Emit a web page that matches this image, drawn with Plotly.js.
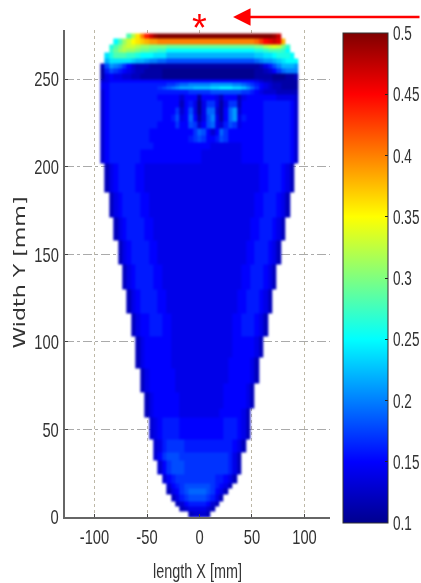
<!DOCTYPE html>
<html>
<head>
<meta charset="utf-8">
<script src="https://cdn.plot.ly/plotly-3.0.1.min.js"></script>
<style>
html,body{margin:0;padding:0;background:#fff;overflow:hidden}
#chart{width:421px;height:583px;filter:blur(0.6px)}
.hm image{filter:blur(1.1px)}
</style>
</head>
<body>
<div id="chart"></div>
<script>
// column edges along length X [mm]
var xEdges = [-94.5,-90.3,-86.1,-81.9,-77.7,-73.5,-69.3,-65.1,-60.9,-56.7,-52.5,-48.3,-44.1,-39.9,-35.7,-31.5,-27.3,-23.1,-18.9,-14.7,-10.5,-6.3,-2.1,2.1,6.3,10.5,14.7,18.9,23.1,27.3,31.5,35.7,39.9,44.1,48.3,52.5,56.7,60.9,65.1,69.3,73.5,77.7,81.9,86.1,90.3,94.5];
// row edges along width Y [mm]
var yEdges = [0,3,6,9,13,16,19,24,32,37,44,57,62,71,76,85,91,103,116,130,144,158,171,185,202,206,210,214,218,222,226,230,234,238,241,244,246,248,250,253,256,259,262,265,267.5,270,273,276];
// first filled column of each row
var rowStart = [20,18,17,16,15,15,14,13,12,12,11,10,10,9,9,8,8,7,6,5,4,3,2,1,0,0,0,0,0,0,0,0,0,0,0,0,0,0,0,0,0,1,1,2,2,3,6];
// measured values in hundredths, bottom row first
var rowValues = [
[12,13,13,13,12],
[12,13,14,14,14,14,13,12],
[12,13,15,16,16,16,16,15,13,12],
[12,14,16,17,18,18,18,18,17,16,14,12],
[12,14,15,17,18,19,19,19,19,18,17,15,14,12],
[13,15,16,17,18,18,18,18,18,18,17,16,15,14,12],
[13,15,16,17,17,17,17,17,17,17,17,17,16,16,15,14,12],
[13,15,17,18,18,18,17,17,17,17,17,17,17,17,17,17,16,14,12],
[13,15,17,18,18,18,17,17,17,17,17,17,17,17,17,17,17,16,14,12],
[13,14,16,17,17,17,17,16,16,16,16,16,16,16,16,16,16,16,15,14,12],
[13,14,15,16,16,16,16,15,15,15,15,15,15,15,15,15,15,16,16,16,15,14,12],
[12,14,15,15,15,15,15,15,14,14,14,14,14,14,14,14,14,15,15,15,15,15,14,12],
[12,14,15,15,15,15,15,15,14,14,14,14,14,14,14,14,14,14,15,15,15,15,15,14,12],
[12,14,15,15,15,15,15,15,14,14,14,14,14,14,14,14,14,14,14,15,15,15,15,15,14,12],
[12,14,15,15,15,15,15,15,14,14,14,14,14,14,14,14,14,14,14,14,15,15,15,15,15,14,12],
[12,14,15,15,15,15,15,15,14,14,14,14,14,14,14,14,14,14,14,14,14,15,15,15,15,15,14,12],
[12,14,15,15,15,15,15,15,14,14,14,14,14,14,14,14,14,14,14,14,14,14,15,15,15,15,15,14,12],
[12,14,15,15,16,16,16,15,15,14,14,14,14,14,14,14,14,14,14,14,14,14,14,15,15,16,16,16,15,14,12],
[12,14,15,16,16,16,16,15,15,14,14,14,14,14,14,14,14,14,14,14,14,14,14,14,14,15,15,16,16,16,15,14,12],
[12,14,15,16,16,16,16,15,15,14,14,14,14,14,14,14,14,14,14,14,14,14,14,14,14,14,14,15,15,16,16,16,15,14,12],
[12,14,15,16,16,16,16,15,15,14,14,14,14,14,14,14,14,14,14,14,14,14,14,14,14,14,14,14,14,15,15,16,16,16,15,14,12],
[12,14,15,16,16,16,16,15,15,14,14,14,14,14,14,14,14,14,14,14,14,14,14,14,14,14,14,14,14,14,14,15,15,16,16,16,15,14,12],
[12,14,15,16,16,16,16,15,15,14,14,14,14,14,14,14,14,14,14,14,14,14,14,14,14,14,14,14,14,14,14,14,14,15,15,16,16,16,15,14,12],
[12,14,15,16,16,16,16,15,15,14,14,14,14,14,14,14,14,14,14,14,14,14,14,14,14,14,14,14,14,14,14,14,14,14,14,15,15,16,16,16,15,14,12],
[13,15,16,16,16,16,16,16,16,15,15,15,15,15,15,15,15,15,15,15,15,15,15,14,14,14,14,14,14,14,14,14,15,15,15,15,15,16,16,16,16,16,16,15,13],
[13,15,16,16,16,16,16,16,16,15,15,15,15,15,15,15,15,15,15,15,15,15,15,14,14,14,14,14,14,14,14,14,15,15,15,15,15,16,16,16,16,16,16,15,13],
[13,15,16,16,16,16,16,16,16,16,16,16,15,15,15,15,15,15,15,15,15,15,15,15,15,14,14,14,14,14,14,14,15,15,15,15,15,16,16,16,16,16,16,15,13],
[13,15,16,16,16,16,16,16,16,16,16,15,15,15,15,15,15,15,15,15,16,17,18,17,15,15,16,18,17,15,15,15,15,15,15,15,15,16,16,16,16,16,16,15,13],
[13,15,16,16,16,16,16,16,16,16,16,15,15,15,15,15,15,15,15,15,15,17,19,18,15,13,15,19,17,15,15,15,15,15,15,15,15,16,16,16,16,16,16,15,13],
[13,15,16,16,16,16,16,16,16,16,16,16,16,15,15,15,15,17,15,15,18,17,13,15,18,19,14,13,16,18,17,14,15,15,15,15,15,16,16,16,16,16,16,15,13],
[13,15,16,16,16,16,16,16,16,16,16,16,16,16,15,15,16,18,14,15,19,15,11,14,18,20,14,11,15,19,21,14,16,15,15,15,15,16,16,16,16,16,16,15,13],
[13,15,16,16,16,16,16,16,16,16,16,16,16,16,15,15,15,17,13,15,18,14,10,14,19,19,13,11,15,19,21,13,15,15,15,15,15,16,16,16,16,16,16,15,13],
[13,15,16,16,16,16,16,16,16,16,16,16,16,16,15,15,15,15,12,15,16,14,10,14,17,17,14,11,14,17,17,12,15,15,15,15,15,16,16,16,16,16,16,15,13],
[13,15,16,16,16,16,16,16,16,16,16,16,16,15,15,15,15,15,13,15,15,15,11,15,15,15,14,12,15,15,15,12,14,15,15,15,15,15,15,15,14,14,14,14,13],
[13,15,16,16,16,16,16,16,16,16,16,16,16,16,16,16,16,16,16,16,17,17,17,17,17,18,18,18,18,18,18,18,17,17,16,15,14,13,13,13,12,12,12,12,12],
[14,15,16,16,16,16,16,16,16,16,16,16,16,17,18,19,20,21,22,22,22,23,23,23,23,24,24,25,25,25,24,24,23,21,19,17,15,14,13,12,12,11,11,11,11],
[14,15,16,16,16,16,16,16,16,16,16,16,16,16,16,17,17,18,19,19,20,20,20,20,20,21,21,21,21,21,20,20,19,18,17,16,15,14,13,12,12,11,11,11,11],
[13,14,15,15,15,15,15,15,15,15,15,15,15,15,15,15,15,15,15,15,15,15,15,15,15,15,15,15,15,15,15,15,15,15,15,14,13,12,12,11,11,11,11,11,11],
[11,14,15,14,14,13,13,12,12,11,11,11,11,11,10,10,10,10,10,10,10,10,10,10,10,10,10,10,10,10,10,10,10,10,10,11,11,11,11,10,10,10,11,11,12],
[11,16,18,17,16,15,14,13,12,12,11,11,11,11,10,10,10,10,10,10,10,10,10,10,10,10,10,10,10,10,10,10,10,10,10,11,11,12,13,15,17,19,20,20,20],
[12,18,21,20,19,17,15,13,12,12,12,11,11,11,11,11,11,11,11,11,11,11,11,11,11,11,11,11,11,11,11,11,11,11,11,11,12,14,16,18,20,22,22,22,21],
[22,24,24,24,24,24,23,22,22,21,20,20,19,19,18,18,18,18,18,18,18,18,18,18,18,18,18,18,18,18,18,18,18,18,19,20,21,21,22,23,24,25,25,25],
[24,26,28,28,28,27,27,26,25,25,25,24,24,24,22,22,22,22,22,22,22,22,22,22,22,22,22,22,22,22,22,22,22,22,23,23,24,24,25,26,26,26,25],
[27,29,31,32,31,31,30,29,29,28,28,27,27,25,25,25,25,25,25,25,25,25,25,25,25,25,25,25,25,25,25,25,25,26,26,27,28,28,28,27,25],
[26,28,30,32,33,33,32,31,31,30,30,30,30,29,29,29,29,29,29,29,29,29,29,29,29,29,29,29,29,29,29,29,29,30,30,32,33,34,33,30,27],
[25,28,31,33,35,36,37,38,39,39,40,40,40,40,40,40,40,40,40,40,40,40,40,40,40,40,40,40,40,40,40,40,41,43,45,46,47,46,38],
[28,32,36,40,44,47,49,50,50,50,50,50,50,50,50,50,50,50,50,50,50,50,50,50,50,50,50,50,50,50,50,50,50,49,47]
];
var xTicks = [-100,-50,0,50,100];
var xLabels = ['-100','-50','0','50','100'];
var yTicks = [0,50,100,150,200,250];
var yLabels = ['0','50','100','150','200','250'];
var cbTicks = [0.1,0.15,0.2,0.25,0.3,0.35,0.4,0.45,0.5];
var cbLabels = ['0.1','0.15','0.2','0.25','0.3','0.35','0.4','0.45','0.5'];

var nCols = xEdges.length - 1;
var z = rowValues.map(function(vals, r){
  var row = [];
  for (var c = 0; c < nCols; c++) {
    var i = c - rowStart[r];
    row.push(i >= 0 && i < vals.length ? vals[i] / 100 : null);
  }
  return row;
});

var sans = '"Liberation Sans",Arial,sans-serif';
var trace = {
  type: 'heatmap', x: xEdges, y: yEdges, z: z, zmin: 0.1, zmax: 0.5, zsmooth: false,
  hoverongaps: false,
  colorscale: [[0,'rgb(0,0,143)'],[0.125,'rgb(0,0,255)'],[0.375,'rgb(0,255,255)'],[0.625,'rgb(255,255,0)'],[0.875,'rgb(255,0,0)'],[1,'rgb(128,0,0)']],
  colorbar: {
    x: 1.049, xanchor: 'left', xpad: 0, y: 0.9938, yanchor: 'top', ypad: 0,
    lenmode: 'pixels', len: 490, thicknessmode: 'pixels', thickness: 45,
    tickmode: 'array', tickvals: cbTicks, ticktext: cbLabels,
    ticks: 'inside', ticklen: 3, tickcolor: '#222',
    tickfont: {family: sans, size: 20, color: '#333'},
    outlinecolor: '#333', outlinewidth: 1, borderwidth: 0
  }
};
var layout = {
  width: 421, height: 583, paper_bgcolor: '#fff', plot_bgcolor: '#fff',
  margin: {l: 65, r: 91, t: 30, b: 66, pad: 0, autoexpand: false},
  showlegend: false,
  xaxis: {
    range: [-128.1, 124.3], tickmode: 'array', tickvals: xTicks, ticktext: xLabels, ticks: 'inside', ticklen: 3,
    showline: true, linecolor: '#666', linewidth: 2, zeroline: false,
    showgrid: true, gridcolor: '#bdb8a8', griddash: 'dot', gridwidth: 1,
    tickfont: {family: sans, size: 21, color: '#333'},
    title: {text: 'length X [mm]', font: {family: sans, size: 20, color: '#333'}, standoff: 17}
  },
  yaxis: {
    range: [0, 278], tickmode: 'array', tickvals: yTicks, ticktext: yLabels, ticks: 'inside', ticklen: 3,
    showline: true, linecolor: '#666', linewidth: 2, zeroline: false,
    showgrid: true, gridcolor: '#aaa', griddash: 'dashdot', gridwidth: 1,
    tickfont: {family: sans, size: 21, color: '#333'},
    title: {text: 'Width Y [mm]', font: {family: '"DejaVu Sans",sans-serif', size: 16, color: '#333'}, standoff: 4}
  },
  annotations: [
    {xref: 'x', yref: 'paper', x: 0, y: 1.005, text: '*', showarrow: false,
     font: {family: sans, size: 38, color: '#f00'}, xanchor: 'center', yanchor: 'middle'},
    {xref: 'x', yref: 'paper', x: 32, y: 1.0267, text: '', showarrow: true, axref: 'pixel', ayref: 'pixel',
     ax: 190, ay: 0, arrowcolor: '#f00', arrowwidth: 2.5, arrowhead: 2, arrowsize: 1.4, standoff: 0}
  ]
};
function squeeze(sel, factor){
  document.querySelectorAll(sel).forEach(function(t){
    var w = t.getComputedTextLength();
    t.setAttribute('textLength', (w * factor).toFixed(1));
    t.setAttribute('lengthAdjust', 'spacingAndGlyphs');
  });
}
Plotly.newPlot('chart', [trace], layout, {displayModeBar: false, staticPlot: true}).then(function(){
  squeeze('.xtick text', 0.7);
  squeeze('.ytick text', 0.7);
  document.querySelectorAll('.cbaxis text, .colorbar .ctick text, .crisp text').forEach(function(t){
    // narrow the colour-bar labels around their own left edge, keeping Plotly's placement
    var old = t.getAttribute('transform') || '';
    var x = parseFloat(t.getAttribute('x')) || 0;
    t.setAttribute('transform', old + ' translate(' + x + ' 0) scale(0.68 1) translate(' + (-x) + ' 0)');
  });
  squeeze('.xtitle', 0.72);
  var yt = document.querySelector('.ytitle');
  if (yt) {
    yt.setAttribute('textLength', '152');
    yt.setAttribute('lengthAdjust', 'spacingAndGlyphs');
    var old = yt.getAttribute('transform') || '';
    yt.setAttribute('transform', 'translate(10 -1) ' + old);
  }
});
</script>
</body>
</html>
